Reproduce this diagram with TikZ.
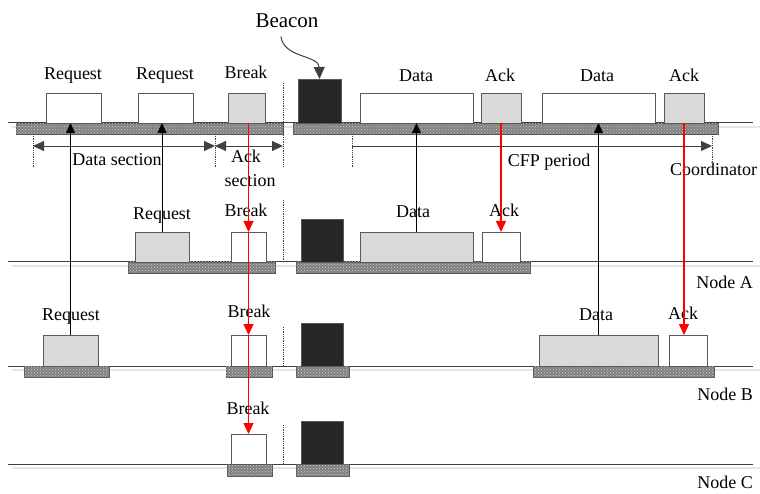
\documentclass[tikz,border=0pt]{standalone}
\usepackage{fontspec}
\setmainfont{Liberation Serif}
\usetikzlibrary{arrows.meta,patterns,calc}
\newcommand\slotbox[6]{\node[#1, minimum width={#5pt-#3pt}, minimum height={#6pt-#4pt}] (#2) at (#3,#6) {};}
\begin{document}
\begin{tikzpicture}[x=1pt,y=-1pt,
  every node/.style={font=\fontsize{18}{22}\selectfont, inner sep=2pt},
  slot/.style={draw=black!65, line width=0.9pt, inner sep=0pt, outer sep=0pt, anchor=south west},
  wbox/.style={slot, fill=white},
  gbox/.style={slot, fill=black!15},
  bbox/.style={slot, fill=black!85},
  bar/.style={draw=black!65, line width=0.9pt, fill=black!50, postaction={pattern=crosshatch dots, pattern color=black!18}},
  tline/.style={draw=black!75, line width=1pt},
  shadowline/.style={draw=black!10, line width=1.2pt},
  lbl/.style={anchor=base},
  sep/.style={draw=black!75, line width=0.8pt, densely dotted},
  dim/.style={draw=black!75, line width=0.9pt, {Triangle[length=11pt,width=10pt]}-{Triangle[length=11pt,width=10pt]}},
  dimr/.style={draw=black!75, line width=0.9pt, -{Triangle[length=11pt,width=10pt]}},
  up/.style={draw=black, line width=0.9pt, -{Triangle[length=10pt,width=9pt]}},
  down/.style={draw=red, line width=1.2pt, -{Triangle[length=11pt,width=10pt]}},
  beaconarrow/.style={draw=black!75, line width=1pt, -{Triangle[length=12pt,width=11pt]}}
]
\useasboundingbox (0,0) rectangle (760,494);

% coordinates of time lines
\coordinate (cl) at (0,123);

% shadow lines and time lines
\foreach \yy in {123,262,366,464}{
  \draw[shadowline] (12,\yy+4) -- (760,\yy+4);
  \draw[tline] (8,\yy) -- (753,\yy);
}

% hatched bars
\path[bar] (16,123) rectangle (283,134);
\path[bar] (293,123) rectangle (718,134);
\path[bar] (128,262) rectangle (275,273);
\path[bar] (296,262) rectangle (530,273);
\path[bar] (24,366) rectangle (109,377);
\path[bar] (226,366) rectangle (272,377);
\path[bar] (296,366) rectangle (349,377);
\path[bar] (533,366) rectangle (714,377);
\path[bar] (227,464) rectangle (272,476);
\path[bar] (296,464) rectangle (349,476);

% coordinator slots
\slotbox{wbox}{kReq1}{46}{93}{101}{123}
\slotbox{wbox}{kReq2}{138}{93}{193}{123}
\slotbox{gbox}{kBrk}{228}{93}{265}{123}
\slotbox{bbox}{kBcn}{298}{79}{341}{123}
\slotbox{wbox}{kData1}{360}{93}{473}{123}
\slotbox{gbox}{kAck1}{481}{93}{521}{123}
\slotbox{wbox}{kData2}{542}{93}{655}{123}
\slotbox{gbox}{kAck2}{664}{93}{704}{123}
% node A slots
\slotbox{gbox}{aReq}{135}{232}{189}{262}
\slotbox{wbox}{aBrk}{231}{232}{266}{262}
\slotbox{bbox}{aBcn}{301}{219}{343}{262}
\slotbox{gbox}{aData}{360}{232}{473}{262}
\slotbox{wbox}{aAck}{482}{232}{520}{262}
% node B slots
\slotbox{gbox}{bReq}{43}{335}{98}{366}
\slotbox{wbox}{bBrk}{231}{335}{266}{366}
\slotbox{bbox}{bBcn}{301}{323}{343}{366}
\slotbox{gbox}{bData}{539}{335}{658}{366}
\slotbox{wbox}{bAck}{669}{335}{707}{366}
% node C slots
\slotbox{wbox}{cBrk}{231}{434}{266}{464}
\slotbox{bbox}{cBcn}{301}{421}{343}{464}

% labels coordinator
\node[lbl] (lkReq1) at (73,80) {Request};
\node[lbl] (lkReq2) at (165,80) {Request};
\node[lbl] (lkBrk) at (246,79) {Break};
\node[lbl] (lkData1) at (416,82) {Data};
\node[lbl] (lkAck1) at (500,82) {Ack};
\node[lbl] (lkData2) at (597,82) {Data};
\node[lbl] (lkAck2) at (684,82) {Ack};
\node[lbl, font=\fontsize{21}{25}\selectfont] (beacon) at (287,28) {Beacon};
% labels node A
\node[lbl] (laReq) at (162,220) {Request};
\node[lbl] (laBrk) at (246,217) {Break};
\node[lbl] (laData) at (413,218) {Data};
\node[lbl] (laAck) at (504,217) {Ack};
% labels node B
\node[lbl] (lbReq) at (71,320) {Request};
\node[lbl] (lbBrk) at (249,317) {Break};
\node[lbl] (lbData) at (596,320) {Data};
\node[lbl] (lbAck) at (683,319) {Ack};
% labels node C
\node[lbl] (lcBrk) at (248,414) {Break};
% station names
\node[anchor=base west, inner sep=0pt] (ncoord) at (670,176) {Coordinator};
\node[anchor=base east, inner sep=0pt] (nA) at (753,288) {Node A};
\node[anchor=base east, inner sep=0pt] (nB) at (753,400) {Node B};
\node[anchor=base east, inner sep=0pt] (nC) at (753,488) {Node C};

% separators
\coordinate (s1t) at (33,134);   \coordinate (s1b) at (33,167);
\coordinate (s2t) at (215,134);  \coordinate (s2b) at (215,167);
\coordinate (s3t) at (283,83);   \coordinate (s3b) at (283,167);
\coordinate (s4t) at (352,134);  \coordinate (s4b) at (352,167);
\coordinate (s5t) at (712,134);  \coordinate (s5b) at (712,166);
\draw[sep] (s1t) -- (s1b);
\draw[sep] (s2t) -- (s2b);
\draw[sep] (s3t) -- (s3b);
\draw[sep] (s4t) -- (s4b);
\draw[sep] (s5t) -- (s5b);
\draw[sep] (283,200) -- (283,261);
\draw[sep] (283,327) -- (283,365);
\draw[sep] (283,425) -- (283,463);

% dimension arrows
\coordinate (d1) at (33,146);
\coordinate (d2) at (215,146);
\coordinate (d3) at (283,146);
\coordinate (d4) at (352,146);
\coordinate (d5) at (712,146);
\draw[dim] (d1) -- (d2);
\draw[dim] (d2) -- (d3);
\draw[dimr] (d4) -- (d5);
\node[lbl] (ldata) at (117,166) {Data section};
\node[lbl] (lack) at (246,163) {Ack};
\node[lbl] (lsec) at (250,187) {section};
\node[lbl] (lcfp) at (549,167) {CFP period};

% beacon pointer
\draw[beaconarrow] ([xshift=-6pt,yshift=-6pt]beacon.south) .. controls (283,58) and (319,55) .. (kBcn.north);

% uplink requests / data (black)
\draw[up] (bReq.north) -- (bReq.north |- cl);
\draw[up] (aReq.north) -- (aReq.north |- cl);
\draw[up] (aData.north) -- (aData.north |- cl);
\draw[up] (bData.north) -- (bData.north |- cl);

% downlink break / ack (red)
\draw[down] (aBrk.north |- cl) -- (aBrk.north);
\draw[down] (aBrk.north) -- (bBrk.north);
\draw[down] (bBrk.north) -- (cBrk.north);
\draw[down] (kAck1.south) -- (aAck.north);
\draw[down] (kAck2.south) -- (kAck2.south |- bAck.north);
\end{tikzpicture}
\end{document}
